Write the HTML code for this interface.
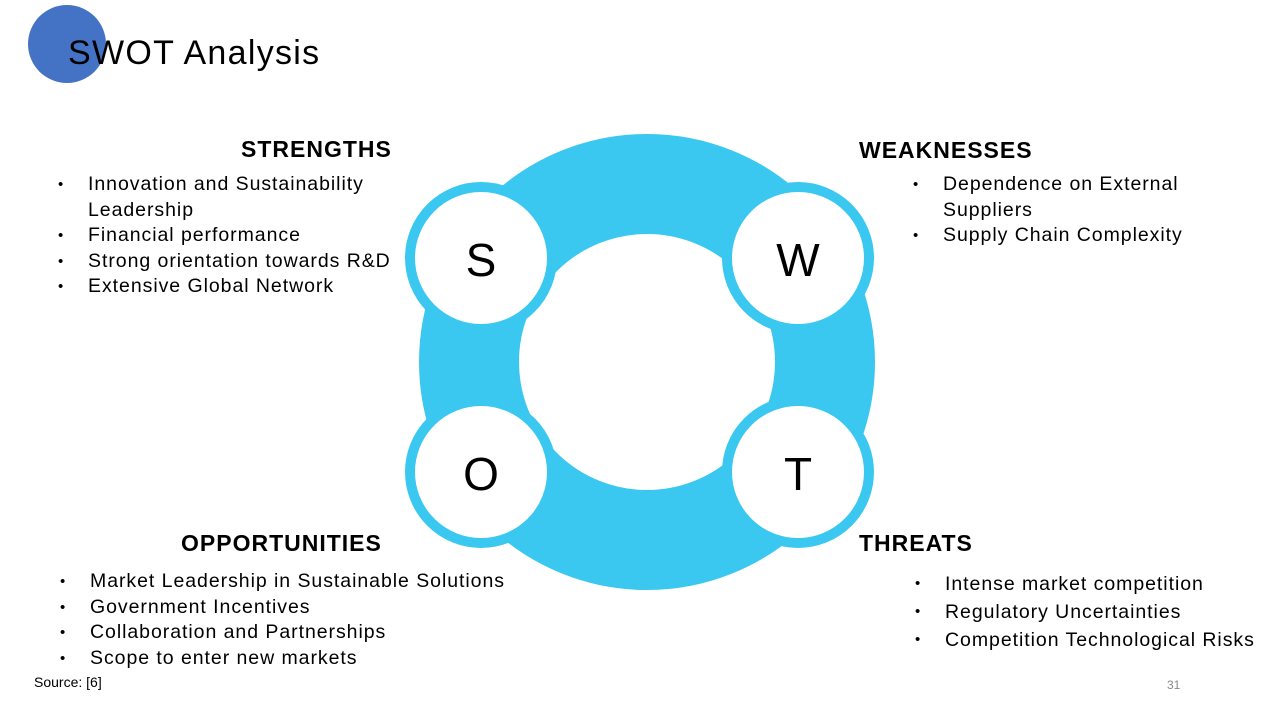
<!DOCTYPE html>
<html><head><meta charset="utf-8"><style>
body{margin:0;width:1280px;height:720px;background:#fff;position:relative;overflow:hidden;font-family:"Liberation Sans",sans-serif;color:#000}
.a{position:absolute;white-space:nowrap}
h3{position:absolute;margin:0;font-size:23px;font-weight:bold;white-space:nowrap;letter-spacing:1px}
ul{position:absolute;margin:0;padding:0;list-style:none;font-size:19.5px;line-height:25.5px;letter-spacing:0.95px}
li{position:relative;padding-left:30px}
li:before{content:"•";position:absolute;left:0;font-size:15px}
</style></head><body>
<div class="a" style="left:28px;top:5px;width:78px;height:78px;border-radius:50%;background:#4472C4"></div>
<div class="a" style="left:68px;top:34px;font-size:34px;letter-spacing:1.3px">SWOT Analysis</div>
<svg class="a" style="left:0;top:0" width="1280" height="720">
<circle cx="647" cy="362" r="178" fill="none" stroke="#3AC8F0" stroke-width="100"/>
<g fill="#fff" stroke="#3AC8F0" stroke-width="10">
<circle cx="481" cy="258" r="71"/><circle cx="798" cy="258" r="71"/>
<circle cx="481" cy="472" r="71"/><circle cx="798" cy="472" r="71"/></g>
<g font-family="Liberation Sans,sans-serif" font-size="46" text-anchor="middle">
<text x="481" y="276">S</text><text x="798" y="276">W</text>
<text x="481" y="490">O</text><text x="798" y="490">T</text></g>
</svg>
<h3 style="left:241px;top:136px">STRENGTHS</h3>
<ul style="left:58px;top:172px">
<li>Innovation and Sustainability<br>Leadership</li><li>Financial performance</li><li>Strong orientation towards R&amp;D</li><li>Extensive Global Network</li></ul>
<h3 style="left:859px;top:137px">WEAKNESSES</h3>
<ul style="left:913px;top:172px"><li>Dependence on External<br>Suppliers</li><li>Supply Chain Complexity</li></ul>
<h3 style="left:181px;top:530px">OPPORTUNITIES</h3>
<ul style="left:60px;top:569px"><li>Market Leadership in Sustainable Solutions</li><li>Government Incentives</li><li>Collaboration and Partnerships</li><li>Scope to enter new markets</li></ul>
<h3 style="left:859px;top:530px">THREATS</h3>
<ul style="left:915px;top:570px;line-height:28px"><li>Intense market competition</li><li>Regulatory Uncertainties</li><li>Competition Technological Risks</li></ul>
<div class="a" style="left:34px;top:674px;font-size:14px">Source: [6]</div>
<div class="a" style="left:1167px;top:678px;font-size:12px;color:#888">31</div>
</body></html>
